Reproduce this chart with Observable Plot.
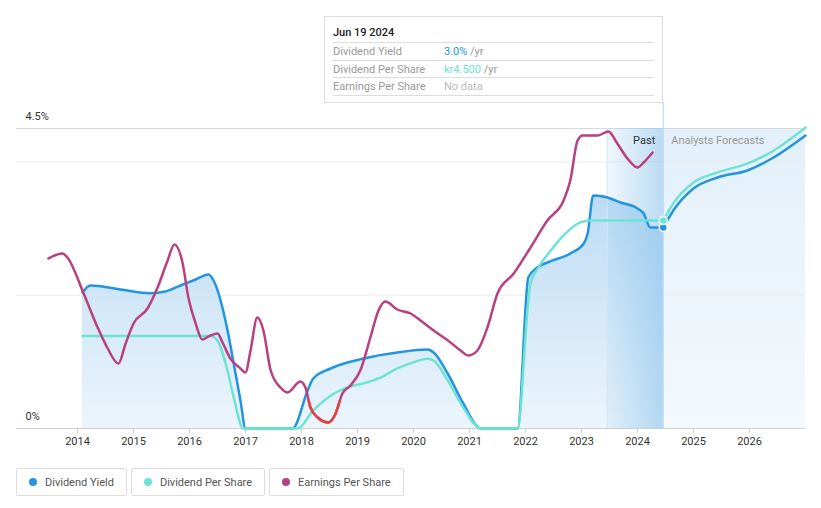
<!DOCTYPE html>
<html><head><meta charset="utf-8">
<script src="https://cdn.jsdelivr.net/npm/d3@7"></script>
<script src="https://cdn.jsdelivr.net/npm/@observablehq/plot@0.6"></script>
<style>
body{margin:0;background:#fff;font-family:Roboto,sans-serif;}
#wrap{position:relative;width:821px;height:508px;overflow:hidden;}
#wrap svg{position:absolute;left:0;top:0;}
#tip{position:absolute;left:324px;top:16px;width:339px;height:87px;box-sizing:border-box;border:1px solid #ddd;background:#fff;padding:0 8px;font-size:11px;}
#tip .date{height:26px;box-sizing:border-box;padding-top:8px;line-height:16px;border-bottom:1px solid #ddd;color:#222;font-weight:500;}
#tip .row{height:17.5px;box-sizing:border-box;line-height:17px;border-bottom:1px solid #ddd;color:#999;display:flex;}
#tip .row .lab{width:111px;}
#legend{position:absolute;left:16px;top:468px;display:flex;gap:4px;}
#legend .item{height:28px;box-sizing:border-box;border:1px solid #ddd;border-radius:2px;padding:0 12px;display:flex;align-items:center;font-size:11px;color:#555;}
#legend .dot{width:8px;height:8px;border-radius:50%;margin-right:8px;}
</style></head>
<body><div id="wrap"></div>
<script>
// ---- data ----
const years = [2014,2015,2016,2017,2018,2019,2020,2021,2022,2023,2024,2025,2026];
const yTickLabels = [{v:4.5,label:"4.5%"},{v:0,label:"0%"}];
const gridValues = [2,4];
const xDomain = [2012.911, 2027.0];
const pastSpan = [2023.46, 2024.46];
const forecastSpan = [2024.46, 2027.0];
const hoverX = 2024.46;

// Dividend yield (%), history and analyst forecast
const yieldHistory = [[2014.09,2.04],[2014.23,2.145],[2014.77,2.085],[2015.30,2.03],[2015.57,2.055],[2015.84,2.145],[2016.11,2.235],[2016.34,2.31],[2016.43,2.22],[2016.68,1.47],[2016.79,0.975],[2016.91,0.42],[2017.0,0],[2017.84,0],[2018.11,0.57],[2018.21,0.75],[2018.52,0.9],[2019.11,1.05],[2019.71,1.14],[2020.25,1.185],[2020.36,1.14],[2020.61,0.825],[2020.89,0.375],[2021.2,0],[2021.86,0],[2022.05,2.265],[2022.21,2.415],[2022.39,2.49],[2022.80,2.625],[2023.04,2.775],[2023.11,2.925],[2023.21,3.495],[2023.39,3.48],[2023.70,3.39],[2024.0,3.30],[2024.11,3.225],[2024.23,3.015],[2024.46,3.015]];
const yieldForecast = [[2024.46,3.015],[2024.64,3.27],[2025.0,3.6],[2025.43,3.765],[2025.96,3.87],[2026.43,4.065],[2027.0,4.395]];

// Dividend per share (kr), history and forecast
const dpsHistory = [[2014.09,2.0],[2016.375,2.0],[2016.5,1.90],[2016.68,1.25],[2016.79,0.67],[2016.96,0],[2017.93,0],[2018.21,0.39],[2018.52,0.71],[2018.82,0.89],[2019.18,1.0],[2019.41,1.10],[2019.71,1.30],[2020.0,1.43],[2020.25,1.51],[2020.36,1.47],[2020.61,1.04],[2020.89,0.45],[2021.2,0],[2021.86,0],[2022.04,2.62],[2022.09,3.14],[2022.23,3.48],[2022.45,3.85],[2022.68,4.18],[2022.98,4.46],[2023.16,4.5],[2024.46,4.5]];
const dpsForecast = [[2024.46,4.5],[2024.64,4.87],[2025.0,5.32],[2025.43,5.54],[2025.96,5.73],[2026.43,6.01],[2027.0,6.51]];
const dpsToAxis = 3.12 / 4.5; // kr4.500 sits at the 3.12 level of the yield axis

// Earnings per share, in axis units (own hidden scale); below epsZero drawn red
const epsSeries = [[2013.48,2.55],[2013.73,2.625],[2013.82,2.565],[2014.11,2.025],[2014.36,1.515],[2014.54,1.2],[2014.73,0.975],[2014.86,1.275],[2015.0,1.575],[2015.25,1.8],[2015.43,2.115],[2015.61,2.52],[2015.73,2.76],[2015.875,2.49],[2015.98,1.965],[2016.11,1.575],[2016.23,1.335],[2016.375,1.395],[2016.5,1.425],[2016.59,1.29],[2016.73,1.05],[2016.91,0.9],[2017.0,0.84],[2017.09,1.17],[2017.21,1.665],[2017.32,1.47],[2017.45,0.87],[2017.625,0.615],[2017.75,0.54],[2017.98,0.705],[2018.07,0.615],[2018.16,0.315],[2018.29,0.165],[2018.48,0.09],[2018.61,0.225],[2018.73,0.525],[2018.875,0.645],[2019.05,0.87],[2019.23,1.365],[2019.375,1.77],[2019.5,1.905],[2019.71,1.785],[2019.95,1.725],[2020.125,1.62],[2020.36,1.47],[2020.66,1.29],[2020.84,1.17],[2020.98,1.095],[2021.14,1.17],[2021.32,1.515],[2021.5,2.025],[2021.79,2.325],[2022.09,2.715],[2022.39,3.12],[2022.68,3.42],[2022.80,3.72],[2022.93,4.32],[2023.02,4.395],[2023.29,4.395],[2023.48,4.455],[2023.64,4.275],[2023.82,4.05],[2024.0,3.915],[2024.11,3.99],[2024.27,4.14]];
const epsZero = 0.42;

const C_YIELD = "#2394df", C_DPS = "#6ee3d3", C_EPS = "#b9407f", C_NEG = "#e8403b";

// ---- chart ----
const W = 821, H = 460;
const px = d => d[0], py = d => d[1], pyDps = d => d[1] * dpsToAxis;
const chart = Plot.plot({
  width: W, height: H, marginLeft: 16, marginRight: 16, marginTop: 128, marginBottom: 32,
  x: {domain: xDomain, axis: null},
  y: {domain: [0, 4.5], axis: null},
  style: {fontFamily: "Roboto, sans-serif", fontSize: "11px", background: "transparent", overflow: "visible"},
  marks: [
    Plot.rect([forecastSpan], {x1: d => d[0], x2: d => d[1], y1: 0, y2: 4.5, fill: "url(#fcGrad)"}),
    Plot.ruleY(gridValues, {stroke: "#ececec"}),
    Plot.ruleY([4.5], {stroke: "#d9d9d9"}),
    Plot.areaY(yieldHistory, {x: px, y: py, curve: "monotone-x", fill: "url(#areaGrad)"}),
    Plot.rect([pastSpan], {x1: d => d[0], x2: d => d[1], y1: 0, y2: 4.5, fill: "url(#pastGrad)"}),
    Plot.ruleX([pastSpan[0]], {y1: 0, y2: 4.5, stroke: "#d3e6f4"}),
    Plot.ruleX([hoverX], {y1: 0, y2: 4.89, stroke: "#b3d6ef"}),
    Plot.ruleY([0], {stroke: "#d0d0d0"}),
    Plot.ruleX(years, {y1: 0, y2: -0.075, stroke: "#d0d0d0"}),
    Plot.text(years, {x: d => d, y: 0, dy: 13, text: d => String(d), fill: "#333"}),
    Plot.text(yTickLabels, {x: xDomain[0], y: d => d.v, text: d => d.label, dx: 9, dy: -12, textAnchor: "start", fill: "#333"}),
    Plot.line(yieldHistory, {x: px, y: py, curve: "monotone-x", stroke: C_YIELD, strokeWidth: 2.5}),
    Plot.line(yieldForecast, {x: px, y: py, curve: "monotone-x", stroke: C_YIELD, strokeWidth: 2.5}),
    Plot.line(dpsHistory, {x: px, y: pyDps, curve: "monotone-x", stroke: C_DPS, strokeWidth: 2.5}),
    Plot.line(dpsForecast, {x: px, y: pyDps, curve: "monotone-x", stroke: C_DPS, strokeWidth: 2.5}),
    Plot.line(epsSeries, {x: px, y: py, curve: "monotone-x", stroke: C_EPS, strokeWidth: 2.5}),
    Plot.line(epsSeries, {x: px, y: py, curve: "monotone-x", stroke: C_NEG, strokeWidth: 2.5}),
    Plot.text(["Past"], {x: hoverX, y: 4.5, dx: -8, dy: 12, text: d => d, textAnchor: "end", fill: "#333"}),
    Plot.text(["Analysts Forecasts"], {x: hoverX, y: 4.5, dx: 8, dy: 12, text: d => d, textAnchor: "start", fill: "#999"}),
    Plot.dot([yieldForecast[0]], {x: px, y: py, r: 4, fill: C_YIELD, stroke: "#fff", strokeWidth: 1.5}),
    Plot.dot([dpsForecast[0]], {x: px, y: pyDps, r: 4, fill: C_DPS, stroke: "#fff", strokeWidth: 1.5})
  ]
});

const ys = chart.scale("y");
const svg = d3.select(chart);
const defs = svg.insert("defs", ":first-child");
const ag = defs.append("linearGradient").attr("id", "areaGrad").attr("gradientUnits", "userSpaceOnUse")
  .attr("x1", 0).attr("x2", 0).attr("y1", ys.apply(4.5)).attr("y2", ys.apply(0));
ag.append("stop").attr("offset", "0%").attr("stop-color", "#aed4f2");
ag.append("stop").attr("offset", "100%").attr("stop-color", "#ecf5fc");
const pg = defs.append("linearGradient").attr("id", "pastGrad").attr("x1", 0).attr("x2", 1).attr("y1", 0).attr("y2", 0);
pg.append("stop").attr("offset", "0%").attr("stop-color", "rgb(140,195,235)").attr("stop-opacity", 0.12);
pg.append("stop").attr("offset", "100%").attr("stop-color", "rgb(140,195,235)").attr("stop-opacity", 0.6);
const fg = defs.append("linearGradient").attr("id", "fcGrad").attr("x1", 0).attr("x2", 0).attr("y1", 0).attr("y2", 1);
fg.append("stop").attr("offset", "0%").attr("stop-color", "#e3f0fa");
fg.append("stop").attr("offset", "100%").attr("stop-color", "#f3f9fd");
const yz = ys.apply(epsZero);
defs.append("clipPath").attr("id", "epsNeg").append("rect")
  .attr("x", 0).attr("y", yz).attr("width", W).attr("height", H - yz);
svg.selectAll(`[stroke="${C_NEG}"]`).attr("clip-path", "url(#epsNeg)");

const wrap = document.getElementById("wrap");
wrap.appendChild(chart);

// tooltip
const tip = document.createElement("div");
tip.id = "tip";
tip.innerHTML = `<div class="date">Jun 19 2024</div>
<div class="row"><span class="lab">Dividend Yield</span><span><span style="color:${C_YIELD}">3.0%</span> /yr</span></div>
<div class="row"><span class="lab">Dividend Per Share</span><span><span style="color:${C_DPS}">kr4.500</span> /yr</span></div>
<div class="row"><span class="lab">Earnings Per Share</span><span style="color:#bbb">No data</span></div>`;
wrap.appendChild(tip);

// legend
const legendItems = [["Dividend Yield", C_YIELD], ["Dividend Per Share", C_DPS], ["Earnings Per Share", C_EPS]];
const lg = document.createElement("div");
lg.id = "legend";
lg.innerHTML = legendItems.map(([t, c]) => `<div class="item"><span class="dot" style="background:${c}"></span>${t}</div>`).join("");
wrap.appendChild(lg);
</script></body></html>
